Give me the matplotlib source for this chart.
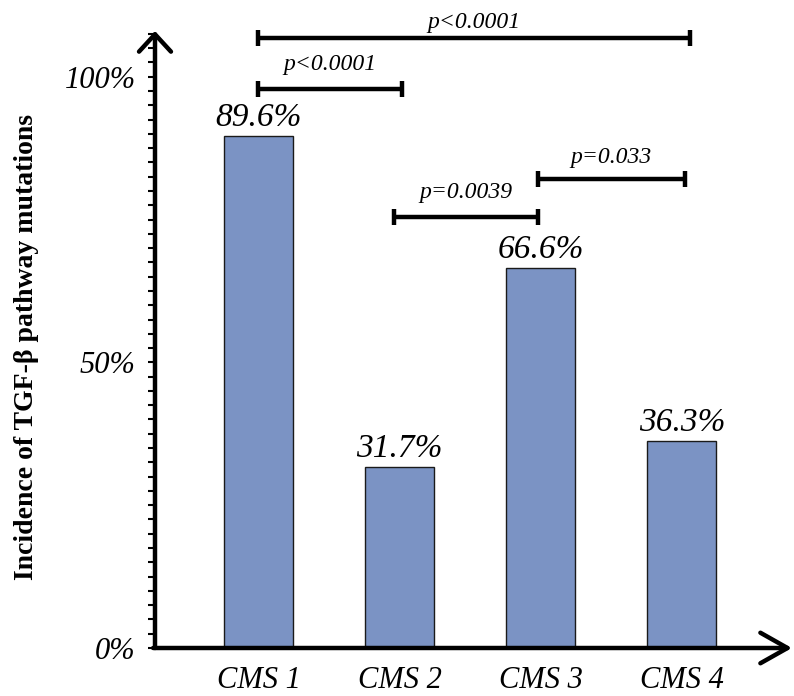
import matplotlib
matplotlib.use("Agg")
import matplotlib.pyplot as plt
from matplotlib.ticker import MultipleLocator, FixedLocator

# ---- data ----
categories = ["CMS 1", "CMS 2", "CMS 3", "CMS 4"]
incidence = [89.6, 31.7, 66.6, 36.3]
value_labels = ["89.6%", "31.7%", "66.6%", "36.3%"]
ytick_values = [0, 50, 100]
ytick_labels = ["0%", "50%", "100%"]
p_texts = ["p<0.0001", "p<0.0001", "p=0.0039", "p=0.033"]
p_from = [0, 0, 1, 2]
p_to = [3, 1, 2, 3]

# ---- layout (positions only) ----
bracket_y = [106.7, 97.9, 75.5, 82.1]
bracket_x_adj = [(0.0, 0.06), (0.0, 0.02), (-0.04, -0.02), (-0.02, 0.02)]
label_gap = [1.9, 3.3, 3.3, 2.8]

serif = ["Liberation Serif", "DejaVu Serif"]
plt.rcParams["font.family"] = serif

fig = plt.figure(figsize=(7.94, 6.96), dpi=100)
L, B = 155 / 794, (696 - 648) / 696
W, H = (792 - 155) / 794, (648 - 31) / 696
ax = fig.add_axes([L, B, W, H])

x = list(range(len(categories)))
ax.bar(x, incidence, width=0.49, color="#7B93C4", edgecolor="#1a1a1a",
       linewidth=1.0, zorder=2)

ax.set_xlim(-0.733, 3.78)
ax.set_ylim(0, 108)

for s in ["top", "right", "left", "bottom"]:
    ax.spines[s].set_visible(False)

# axis arrows
y_arrow = dict(arrowstyle="->,head_length=1.25,head_width=1.15", lw=3.2,
               color="black", shrinkA=0, shrinkB=0, mutation_scale=10)
x_arrow = dict(arrowstyle="->,head_length=1.95,head_width=1.1", lw=3.2,
               color="black", shrinkA=0, shrinkB=0, mutation_scale=10)
ax.annotate("", xy=(0, 1.0), xytext=(0, 0), xycoords="axes fraction",
            textcoords="axes fraction", arrowprops=y_arrow, zorder=5,
            annotation_clip=False)
ax.annotate("", xy=(1.0, 0), xytext=(-0.003, 0), xycoords="axes fraction",
            textcoords="axes fraction", arrowprops=x_arrow, zorder=5,
            annotation_clip=False)

# ticks
ax.yaxis.set_major_locator(FixedLocator(ytick_values))
ax.set_yticklabels(ytick_labels, fontsize=22, style="italic")
ax.yaxis.set_minor_locator(MultipleLocator(2.5))
ax.tick_params(axis="y", which="both", direction="out", length=5, width=1.5,
               pad=9)
ax.set_xticks(x)
ax.set_xticklabels(categories, fontsize=22, style="italic")
ax.tick_params(axis="x", length=0, pad=13)

# value labels
for xi, v, t in zip(x, incidence, value_labels):
    ax.annotate(t, xy=(xi, v), xytext=(0, 7), textcoords="offset points",
                ha="center", va="baseline", fontsize=24, style="italic")

# significance brackets
for t, a, b, yb, (da, db), g in zip(p_texts, p_from, p_to, bracket_y,
                                    bracket_x_adj, label_gap):
    xa, xb = a + da, b + db
    ax.plot([xa, xb], [yb, yb], color="black", lw=3.2, marker="|", ms=11,
            mew=3.2, clip_on=False, zorder=4, solid_capstyle="butt")
    ax.text((xa + xb) / 2, yb + g, t, ha="center", va="baseline",
            fontsize=17, style="italic")

fig.text(27 / 794, 1 - 347 / 696, "Incidence of TGF-β pathway mutations",
         rotation=90, ha="center", va="center", fontsize=20,
         fontweight="bold")

fig.savefig("out.png", dpi=100)
